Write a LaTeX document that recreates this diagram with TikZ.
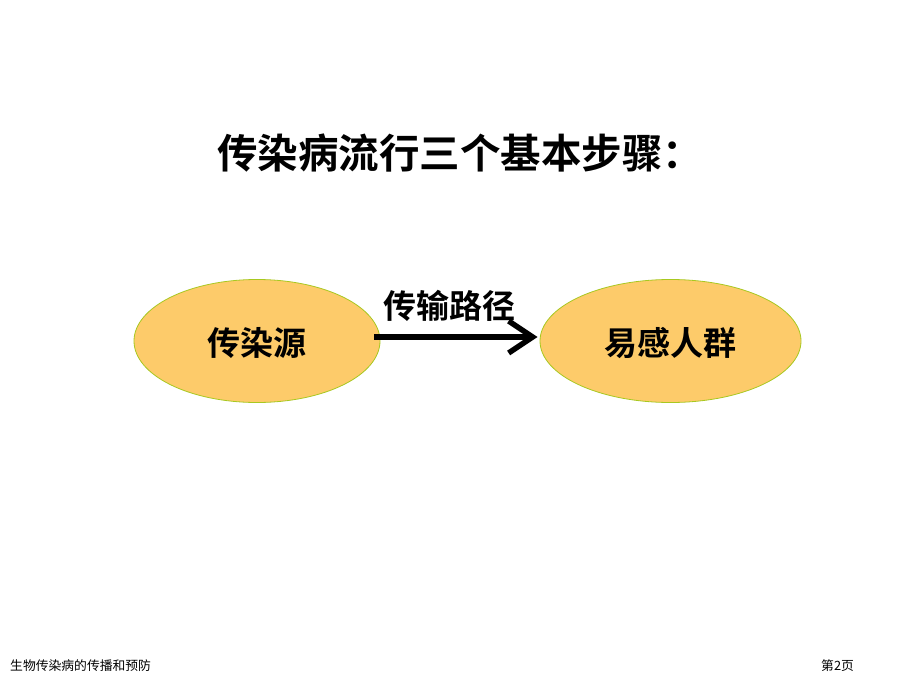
\documentclass[tikz,border=0pt]{standalone}
\usepackage{fontspec}
\setmainfont{Noto Sans CJK SC}
\newfontfamily\cjkb{Noto Sans CJK SC Bold}
\usetikzlibrary{arrows.meta,shapes.geometric}
\definecolor{ovalfill}{HTML}{FDCB6A}
\definecolor{ovaledge}{HTML}{A8C820}
\tikzset{
  oval/.style={ellipse, draw=ovaledge, line width=0.8pt, fill=ovalfill, inner sep=0pt},
  bigtxt/.style={font=\cjkb\fontsize{33}{36}\selectfont},
  foot/.style={font=\fontsize{12.8}{14}\selectfont, anchor=west, inner sep=0pt}
}
\begin{document}
\begin{tikzpicture}[x=1pt,y=-1pt]
\useasboundingbox[fill=white] (0,0) rectangle (920,690);
\node[font=\cjkb\fontsize{40.5}{44}\selectfont] (title) at (460,153) {传染病流行三个基本步骤：};
\node[oval, minimum width=246pt, minimum height=123pt] (src) at (257,341) {};
\node[bigtxt] (srct) at (257,343) {传染源};
\node[oval, minimum width=261pt, minimum height=123pt] (dst) at (670.5,341) {};
\node[bigtxt] (dstt) at (670,343) {易感人群};
\draw[line width=5.5pt, -{Straight Barb[length=24pt,width=32pt,line width=5.5pt]}, shorten <=-6pt, shorten >=2pt]
  ([yshift=4pt]src.east) -- ([yshift=4pt]dst.west);
\node[bigtxt] (path) at (449,306) {传输路径};
\node[foot] (ft) at (10,666) {生物传染病的传播和预防};
\node[foot] (pg) at (821,666) {第2页};
\end{tikzpicture}
\end{document}
